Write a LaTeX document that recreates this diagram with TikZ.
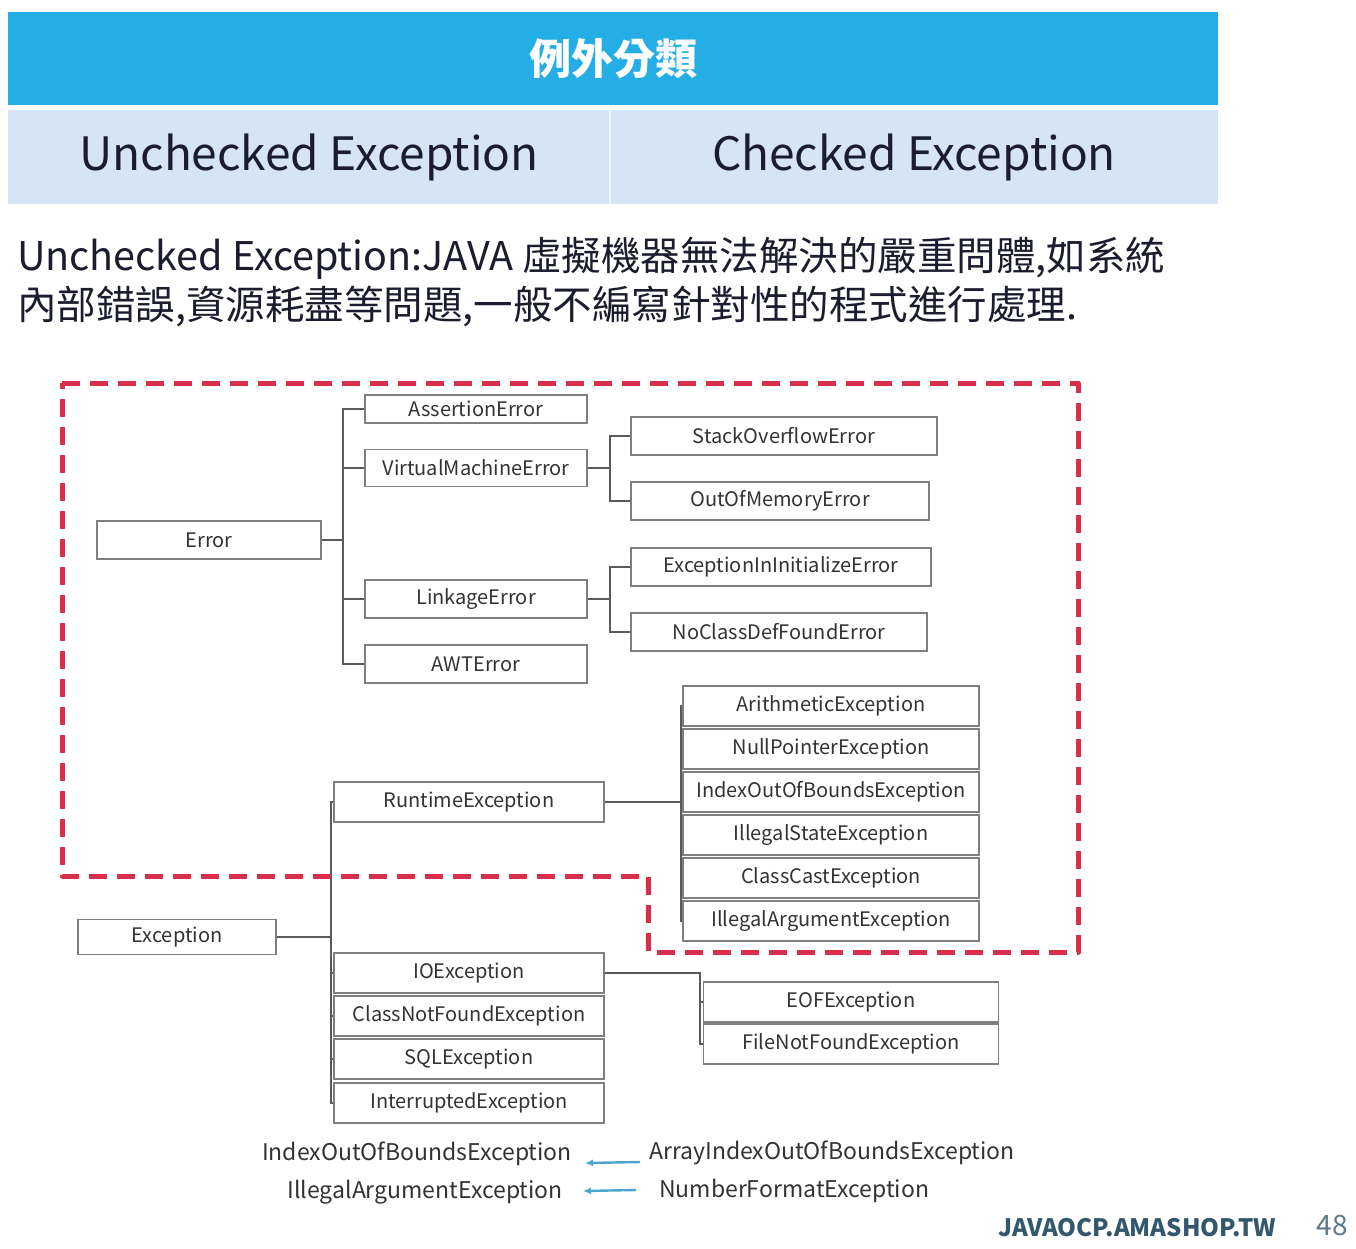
\documentclass[tikz,border=0pt]{standalone}
\usepackage{fontspec}
\setmainfont{Noto Sans CJK TC}
\usetikzlibrary{arrows.meta}

\definecolor{barblue}{HTML}{25AEE6}
\definecolor{subblue}{HTML}{D5E5F6}
\definecolor{dashred}{HTML}{D8304C}
\definecolor{boxline}{HTML}{7F7F7F}
\definecolor{wireline}{HTML}{5A5A5A}
\definecolor{boxtext}{HTML}{333333}
\definecolor{headtext}{HTML}{1B1D2E}
\definecolor{arrowteal}{HTML}{4AA6CC}
\definecolor{footblue}{HTML}{33576D}

\newcommand{\fsz}[1]{\fontsize{#1}{#1}\selectfont}

\tikzset{
  cls/.style={draw=boxline, line width=1.6pt, fill=white, inner sep=0pt,
              text=boxtext, font=\fsz{20}},
  wire/.style={draw=wireline, line width=1.6pt},
  cell/.style={inner sep=0pt, font=\fsz{46}, text=headtext},
  plain/.style={inner sep=0pt, text=headtext},
  subcls/.style={inner sep=0pt, text=boxtext, font=\fsz{23}},
  tealarrow/.style={draw=arrowteal, line width=2.4pt, -{Latex[length=8pt,width=7pt]}},
  region/.style={draw=dashred, line width=5pt, dash pattern=on 18pt off 10pt, line join=round}
}

\begin{document}
\begin{tikzpicture}[x=1pt,y=-1pt]
\useasboundingbox (0,0) rectangle (1356,1249);
\fill[white] (0,0) rectangle (1356,1249);

% heading table
\node[fill=barblue, minimum width=1210, minimum height=93, inner sep=0pt,
      text=white, font=\fsz{42}\bfseries] (title) at (613,58.5) {例外分類};
\node[cell, fill=subblue, minimum width=602, minimum height=94] (uncheck) at (309,157) {Unchecked Exception};
\node[cell, fill=subblue, minimum width=608, minimum height=94] (check) at (914,157) {Checked Exception};
\draw[white!55!subblue, line width=2pt] (uncheck.north east) -- (uncheck.south east);

% description
\node[plain, anchor=west, font=\fsz{39.5}] (desc1) at (17,258)
  {Unchecked Exception:JAVA 虛擬機器無法解決的嚴重問體,如系統};
\node[plain, anchor=west, font=\fsz{39.5}] (desc2) at (17,307)
  {內部錯誤,資源耗盡等問題,一般不編寫針對性的程式進行處理.};

% Error branch
\node[cls, minimum width=224, minimum height=38] (err) at (209,540) {Error};
\node[cls, minimum width=222, minimum height=28] (assert) at (476,409) {AssertionError};
\node[cls, minimum width=222, minimum height=37] (vme) at (476,468) {VirtualMachineError};
\node[cls, minimum width=222, minimum height=38] (link) at (476,599) {LinkageError};
\node[cls, minimum width=222, minimum height=38] (awt) at (476,664) {AWTError};
\node[cls, minimum width=306, minimum height=38] (soe) at (784,436) {StackOverflowError};
\node[cls, minimum width=298, minimum height=38] (oome) at (780,501) {OutOfMemoryError};
\node[cls, minimum width=300, minimum height=38] (eiie) at (781,567) {ExceptionInInitializeError};
\node[cls, minimum width=296, minimum height=38] (ncdfe) at (779,632) {NoClassDefFoundError};

\coordinate (sp1) at (343,0);
\coordinate (sp2) at (610,0);
\draw[wire] (err.east) -- (err.east -| sp1);
\draw[wire] (assert.west) -- (assert.west -| sp1) -- (awt.west -| sp1) -- (awt.west);
\draw[wire] (vme.west) -- (vme.west -| sp1);
\draw[wire] (link.west) -- (link.west -| sp1);
\draw[wire] (vme.east) -- (vme.east -| sp2);
\draw[wire] (soe.west) -- (soe.west -| sp2) -- (oome.west -| sp2) -- (oome.west);
\draw[wire] (link.east) -- (link.east -| sp2);
\draw[wire] (eiie.west) -- (eiie.west -| sp2) -- (ncdfe.west -| sp2) -- (ncdfe.west);

% Exception branch
\node[cls, minimum width=198, minimum height=35] (exc) at (177,937) {Exception};
\node[cls, minimum width=270, minimum height=40] (rte) at (469,802) {RuntimeException};
\node[cls, minimum width=270, minimum height=40] (ioe) at (469,973) {IOException};
\node[cls, minimum width=270, minimum height=40] (cnfe) at (469,1016) {ClassNotFoundException};
\node[cls, minimum width=270, minimum height=40] (sqle) at (469,1059) {SQLException};
\node[cls, minimum width=270, minimum height=40] (inte) at (469,1103) {InterruptedException};

\node[cls, minimum width=296, minimum height=40] (arith) at (831,706) {ArithmeticException};
\node[cls, minimum width=296, minimum height=40] (npe) at (831,749) {NullPointerException};
\node[cls, minimum width=296, minimum height=40] (ioobbox) at (831,792) {IndexOutOfBoundsException};
\node[cls, minimum width=296, minimum height=40] (ise) at (831,835) {IllegalStateException};
\node[cls, minimum width=296, minimum height=40] (cce) at (831,878) {ClassCastException};
\node[cls, minimum width=296, minimum height=40] (iaebox) at (831,921) {IllegalArgumentException};

\node[cls, minimum width=295, minimum height=40] (eofe) at (851,1002) {EOFException};
\node[cls, minimum width=295, minimum height=40] (fnfe) at (851,1044) {FileNotFoundException};

\coordinate (sp3) at (331,0);
\coordinate (sp4) at (681,0);
\coordinate (sp5) at (700,0);
\draw[wire] (exc.east) -- (exc.east -| sp3);
\draw[wire] (rte.west) -- (rte.west -| sp3) -- (inte.west -| sp3) -- (inte.west);
\draw[wire] (ioe.west) -- (ioe.west -| sp3);
\draw[wire] (cnfe.west) -- (cnfe.west -| sp3);
\draw[wire] (sqle.west) -- (sqle.west -| sp3);
\draw[wire] (rte.east) -- (rte.east -| sp4);
\draw[wire] (arith.west) -- (arith.west -| sp4) -- (iaebox.west -| sp4) -- (iaebox.west);
\foreach \n in {npe,ioobbox,ise,cce} \draw[wire] (\n.west) -- (\n.west -| sp4);
\draw[wire] (ioe.east) -- (ioe.east -| sp5) -- (fnfe.west -| sp5) -- (fnfe.west);
\draw[wire] (eofe.west) -- (eofe.west -| sp5);

% unchecked region
\draw[region] (62,383) -- (1078,383) -- (1078,952) -- (648,952) -- (648,876) -- (62,876) -- cycle;

% subclass notes
\node[subcls, anchor=east] (ioobe) at (572,1154) {IndexOutOfBoundsException};
\node[subcls, anchor=west] (aioobe) at (649,1153) {ArrayIndexOutOfBoundsException};
\node[subcls, anchor=east] (iae) at (563,1192) {IllegalArgumentException};
\node[subcls, anchor=west] (nfe) at (659,1191) {NumberFormatException};
\draw[tealarrow] ([xshift=-9pt,yshift=-9pt]aioobe.west) -- ([xshift=13pt,yshift=-9pt]ioobe.east);
\draw[tealarrow] ([xshift=-23pt,yshift=1pt]nfe.west) -- ([xshift=20pt,yshift=1pt]iae.east);

% footer
\node[inner sep=0pt, anchor=east, text=footblue, font=\fsz{24}\bfseries] (site) at (1276,1228) {JAVAOCP.AMASHOP.TW};
\node[inner sep=0pt, anchor=east, text=footblue!80, font=\fsz{28}] (page) at (1348,1226) {48};
\end{tikzpicture}
\end{document}
